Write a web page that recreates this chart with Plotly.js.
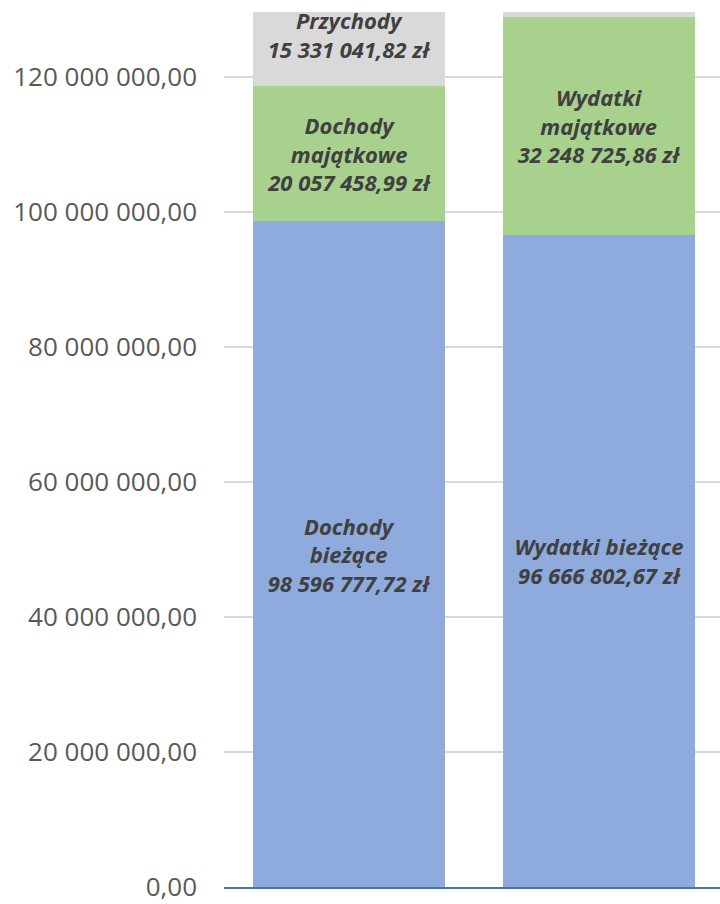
<!DOCTYPE html>
<html>
<head>
<meta charset="utf-8">
<script src="https://cdn.plot.ly/plotly-3.0.1.min.js"></script>
<style>html,body{margin:0;padding:0;background:#fff;}</style>
</head>
<body>
<div id="chart" style="width:720px;height:904px;"></div>
<script>
// Categories (x positions, no tick labels shown)
const categories = ['Dochody', 'Wydatki'];

// Segment 1: bieżące
const currentNames = ['Dochody<br>bieżące', 'Wydatki bieżące'];
const currentValues = [98596777.72, 96666802.67];

// Segment 2: majątkowe
const capitalNames = ['Dochody<br>majątkowe', 'Wydatki<br>majątkowe'];
const capitalValues = [20057458.99, 32248725.86];

// Segment 3: przychody / rozchody (right one is cut off above the plot)
const financeNames = ['Przychody', 'Rozchody'];
const financeValues = [15331041.82, 5069750.00];

function fmtPL(v) {
  const parts = v.toFixed(2).split('.');
  const intPart = parts[0].replace(/\B(?=(\d{3})+(?!\d))/g, ' ');
  return intPart + ',' + parts[1] + ' zł';
}
function labels(names, values) {
  return names.map((n, i) => n + '<br>' + fmtPL(values[i]));
}

const labelFont = {family: 'Open Sans', size: 22, color: '#404040', style: 'italic', weight: 'bold'};

function barTrace(names, values, color, textpos) {
  return {
    type: 'bar',
    x: categories,
    y: values,
    text: labels(names, values),
    textposition: textpos,
    insidetextanchor: 'middle',
    textangle: 0,
    constraintext: 'none',
    insidetextfont: labelFont,
    textfont: labelFont,
    marker: {color: color, line: {width: 0}},
    hoverinfo: 'skip',
    cliponaxis: true
  };
}

const data = [
  barTrace(currentNames, currentValues, '#8FAADC', ['inside', 'inside']),
  barTrace(capitalNames, capitalValues, '#A9D18E', ['inside', 'inside']),
  barTrace(financeNames, financeValues, '#D9D9D9', ['inside', 'none'])
];

const layout = {
  width: 720,
  height: 904,
  barmode: 'stack',
  bargap: 0.229,
  showlegend: false,
  separators: ', ',
  paper_bgcolor: '#ffffff',
  plot_bgcolor: '#ffffff',
  margin: {l: 224, r: 0, t: 12, b: 17, pad: 0},
  xaxis: {
    type: 'category',
    range: [-0.5, 1.484],
    showticklabels: false,
    ticks: '',
    showgrid: false,
    zeroline: false,
    showline: true,
    linecolor: '#4472C4',
    linewidth: 1.5
  },
  yaxis: {
    range: [0, 129.63e6],
    dtick: 20e6,
    tick0: 0,
    tickformat: ',.2f',
    ticks: '',
    ticklabelstandoff: 26,
    ticklabeloverflow: 'allow',
    tickfont: {family: 'Open Sans', size: 26, color: '#595959'},
    showgrid: true,
    gridcolor: '#D9D9D9',
    gridwidth: 1.3,
    zeroline: false,
    showline: false
  }
};

Plotly.newPlot('chart', data, layout, {displayModeBar: false, staticPlot: true});
</script>
</body>
</html>
